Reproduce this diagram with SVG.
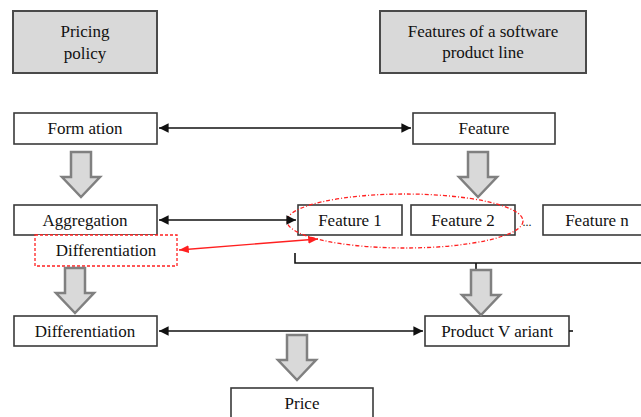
<svg xmlns="http://www.w3.org/2000/svg" width="641" height="417" viewBox="0 0 641 417">
<style>
.box{fill:#fff;stroke:#3a3a3a;stroke-width:1.6}
.title{fill:#d9d9d9;stroke:#4a4a4a;stroke-width:2}
.red{fill:#fff;stroke:#ff2020;stroke-width:1.3;stroke-dasharray:3 2}
text{font-family:'Liberation Serif','DejaVu Serif',serif;font-size:17px;fill:#111;text-anchor:middle}
.blk{fill:#d9d9d9;stroke:#808080;stroke-width:2.5;stroke-linejoin:miter}
.con{fill:none;stroke:#111;stroke-width:1.6}
.rcon{fill:none;stroke:#ff2020;stroke-width:1.4}
</style>
<defs>
<marker id="ah" viewBox="0 0 10 10" refX="10" refY="5" markerWidth="6" markerHeight="6" orient="auto-start-reverse"><path d="M0,0 L10,5 L0,10 Z" fill="#111"/></marker>
<marker id="rh" viewBox="0 0 10 10" refX="10" refY="5" markerWidth="7" markerHeight="7" orient="auto-start-reverse"><path d="M0,1 L10,5 L0,9 Z" fill="#ff2020"/></marker>
<path id="barrow" d="M-10,0 H10 V25 H19 L0,45 L-19,25 H-10 Z"/>
</defs>

<g id="pricing-policy"><rect class="title" x="13" y="11" width="144" height="62"/><text x="85" y="37">Pricing</text><text x="85" y="59">policy</text></g>
<g id="features-spl"><rect class="title" x="380" y="11" width="206" height="62"/><text x="483" y="37">Features of a software</text><text x="483" y="58">product line</text></g>

<g id="formation"><rect class="box" x="14" y="113" width="143" height="31"/><text x="85" y="134">Form ation</text></g>
<g id="feature"><rect class="box" x="413" y="113" width="142" height="31"/><text x="484" y="134">Feature</text></g>
<g id="aggregation"><rect class="box" x="14" y="205" width="143" height="30"/><text x="85" y="226">Aggregation</text></g>
<g id="differentiation-red"><rect class="red" x="35" y="235" width="142" height="31"/><text x="106" y="256">Differentiation</text></g>
<g id="feature1"><rect class="box" x="298" y="205" width="104" height="30"/><text x="350" y="226">Feature 1</text></g>
<g id="feature2"><rect class="box" x="411" y="205" width="104" height="30"/><text x="463" y="226">Feature 2</text></g>
<g id="dots"><text x="527" y="226" style="font-size:12px">...</text></g>
<g id="featuren"><rect class="box" x="543" y="205" width="104" height="30"/><text x="597" y="226">Feature n</text></g>
<g id="feature-group"><ellipse cx="405" cy="221" rx="118" ry="27" fill="none" stroke="#ff2020" stroke-width="1.3" stroke-dasharray="4 2 1 2"/></g>
<g id="differentiation"><rect class="box" x="14" y="316" width="143" height="30"/><text x="85" y="337">Differentiation</text></g>
<g id="product-variant"><rect class="box" x="425" y="316" width="144" height="30"/><text x="497" y="337">Product V ariant</text></g>
<g id="price"><rect class="box" x="231" y="388" width="142" height="32"/><text x="302" y="409">Price</text></g>

<g id="connectors">
<line class="con" x1="159" y1="128" x2="411" y2="128" marker-start="url(#ah)" marker-end="url(#ah)"/>
<line class="con" x1="159" y1="220" x2="296" y2="220" marker-start="url(#ah)" marker-end="url(#ah)"/>
<line class="con" x1="159" y1="331" x2="423" y2="331" marker-start="url(#ah)" marker-end="url(#ah)"/>
<line class="rcon" x1="179" y1="250" x2="318" y2="239" marker-start="url(#rh)" marker-end="url(#rh)"/>
<path class="con" d="M295,253 V263 H641 M476,263 V270" stroke="#333" stroke-width="1.3"/>
<line class="con" x1="569" y1="331" x2="573" y2="331"/>
<use href="#barrow" class="blk" transform="translate(81,152)"/>
<use href="#barrow" class="blk" transform="translate(478,152)"/>
<use href="#barrow" class="blk" transform="translate(75,268)"/>
<use href="#barrow" class="blk" transform="translate(481,270)"/>
<use href="#barrow" class="blk" transform="translate(297,335)"/>
</g>
</svg>
